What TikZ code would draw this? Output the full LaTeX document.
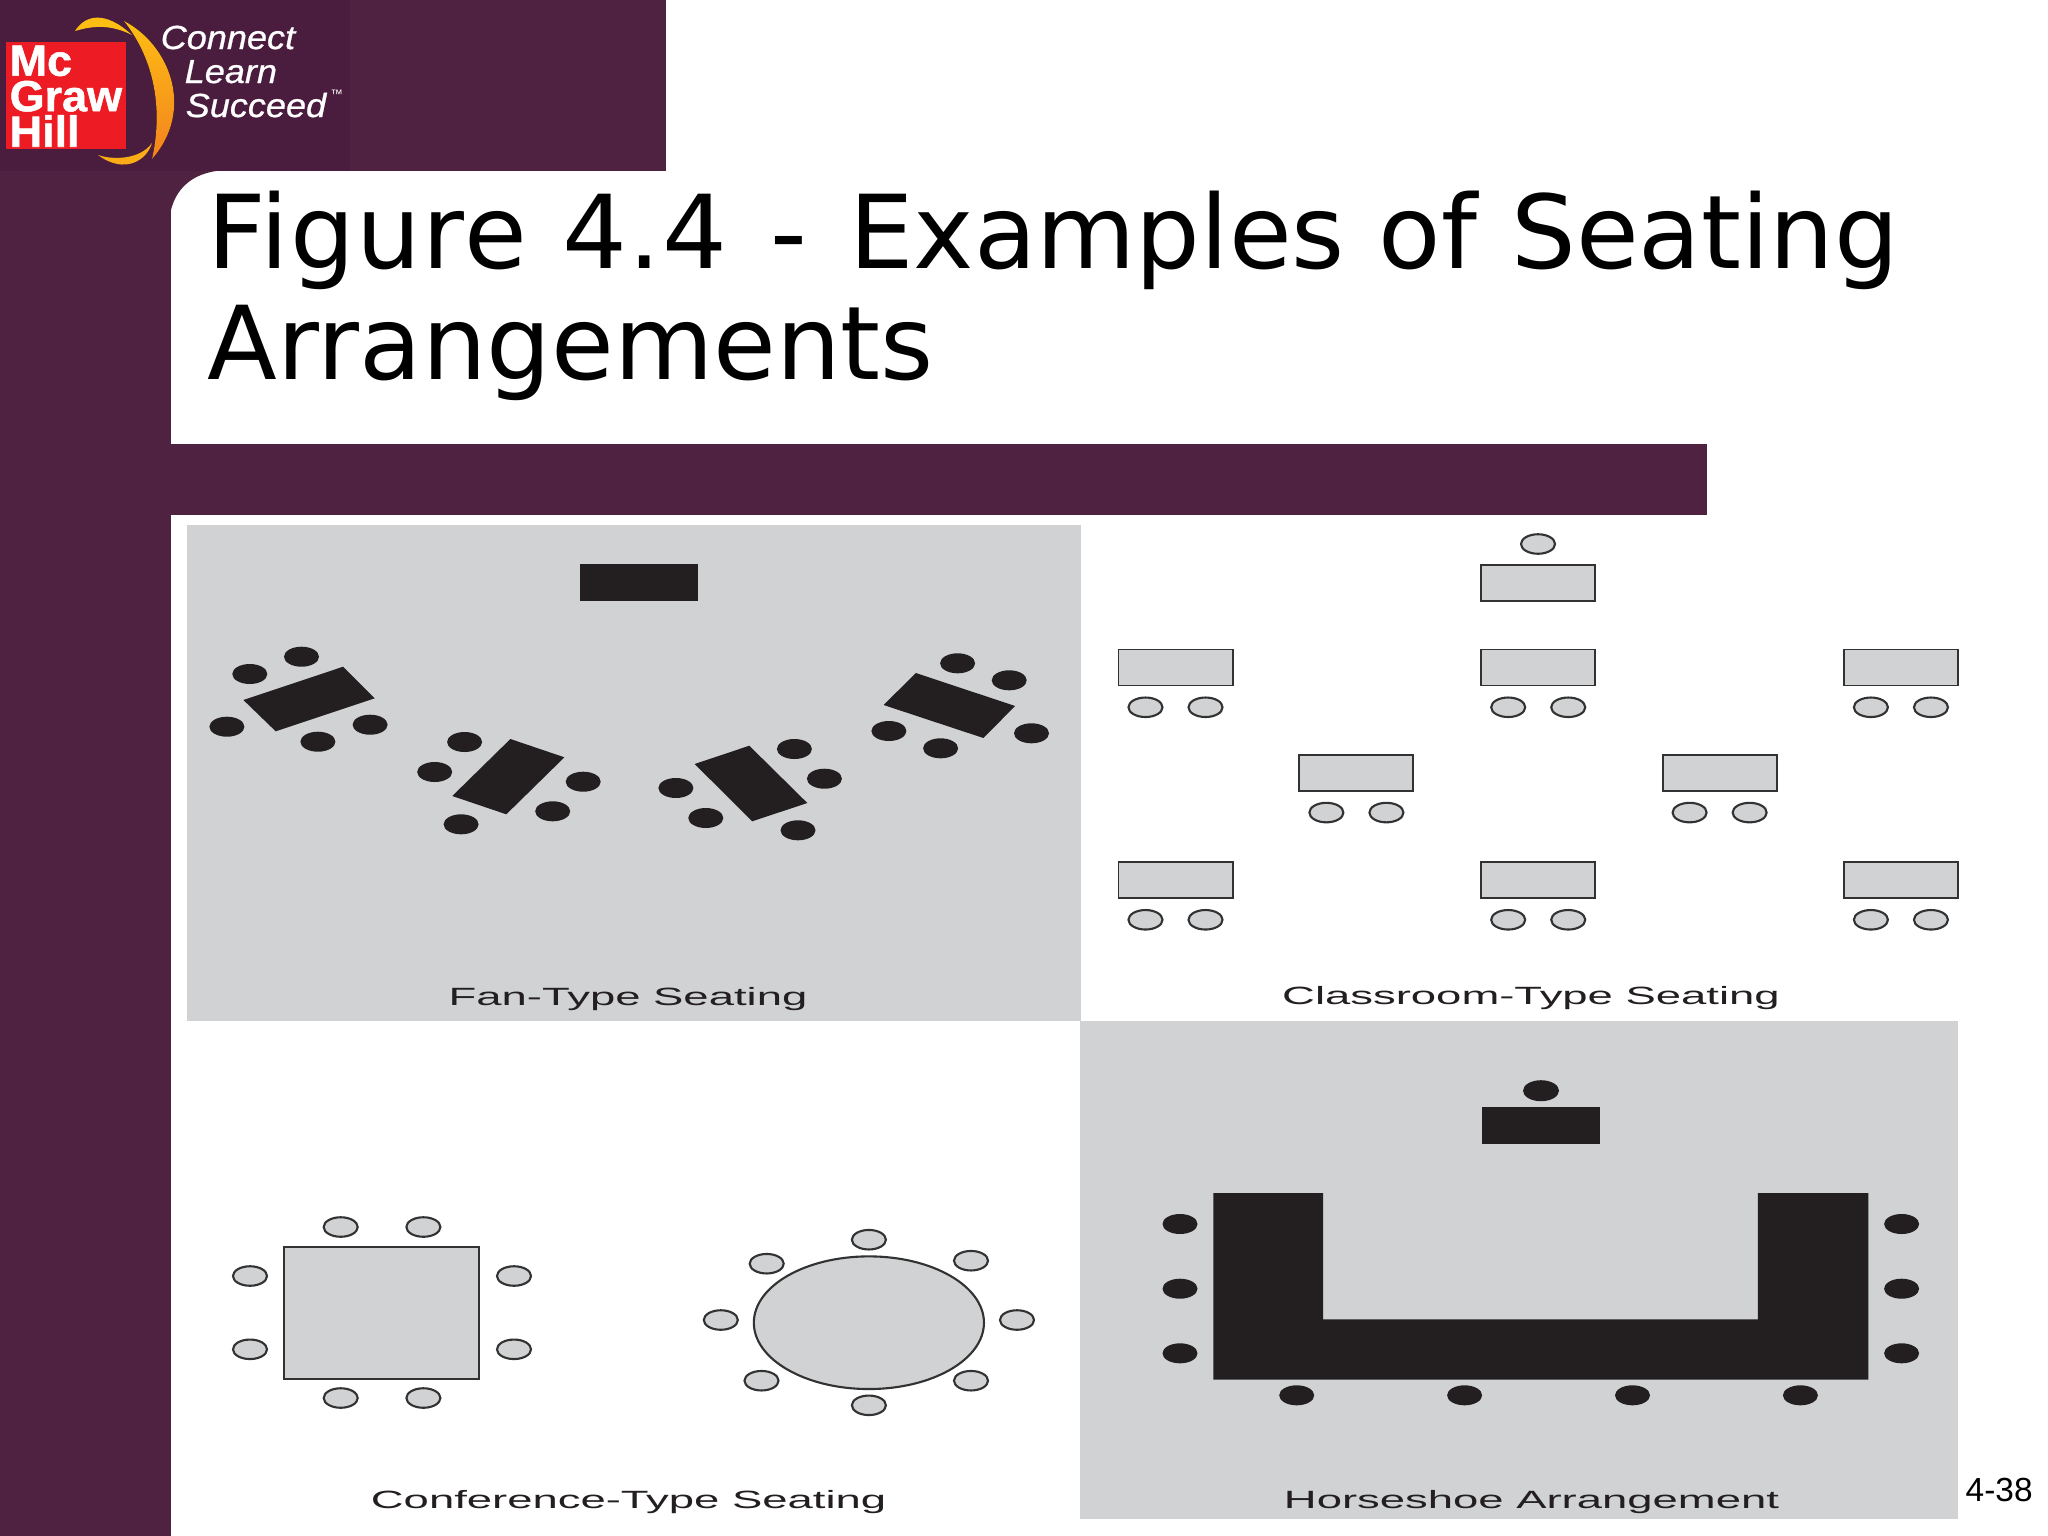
\documentclass[tikz,border=0pt]{standalone}
\usepackage{xcolor}
\usepackage{fontspec}
\setmainfont{Liberation Sans}
\newfontfamily\titlefont[WordSpace=1.05]{DejaVu Sans}
\newfontfamily\logofont[FakeBold=1.2]{Liberation Sans Bold}
\newfontfamily\taglinefont[FakeBold=0.7]{Liberation Sans Italic}
\usepackage{tikz}
\usetikzlibrary{shapes.geometric, positioning}
\definecolor{chrome}{RGB}{78, 34, 64}
\definecolor{chromedark}{RGB}{74, 28, 62}
\definecolor{logored}{RGB}{237, 28, 36}
\definecolor{swooshtop}{RGB}{253, 190, 20}
\definecolor{swooshlow}{RGB}{243, 130, 30}
\definecolor{panel}{RGB}{208, 210, 212}
\definecolor{ink}{RGB}{35, 31, 32}
\definecolor{rim}{RGB}{50, 50, 50}
\tikzset{
  basedesk/.style={
    rectangle, inner sep=0pt, outer sep=0pt,
    minimum width=1.14cm, minimum height=0.36cm
  },
  darkdesk/.style={basedesk, fill=ink},
  lightdesk/.style={basedesk, draw=rim, fill=panel, line width=0.55pt},
  darkseat/.style={
    ellipse, inner sep=0pt, outer sep=0pt, fill=ink,
    minimum width=0.35cm, minimum height=0.2cm
  },
  lightseat/.style={
    ellipse, inner sep=0pt, outer sep=0pt, draw=rim, fill=panel, line width=0.6pt,
    minimum width=0.34cm, minimum height=0.195cm
  },
  figlabel/.style={
    anchor=base, inner sep=0pt, transform shape, xscale=1.82, text=ink,
    font=\fontsize{7.1}{8.5}\selectfont
  },
  taglineword/.style={
    anchor=base west, inner sep=0pt, transform shape, xscale=1.08, text=white,
    font=\fontsize{9.5}{11}\selectfont\taglinefont
  }
}

\begin{document}
\begin{tikzpicture}[x=0.01cm, y=-0.01cm]

  \useasboundingbox (0,0) rectangle (2048,1536);
  \fill[white] (0,0) rectangle (2048,1536);

  % Slide Frame
  \fill[chrome] (0,0) rectangle (666,171);
  \fill[chromedark] (0,0) rectangle (350,171);
  \fill[chrome] (0,171) rectangle (171,1536);
  \fill[chrome] (171,171) -- (216,171) .. controls (190,175) and (176,190) .. (171,210) -- cycle;
  \fill[chrome] (171,443.5) rectangle (1707,514.5);

  % Logo
  \node[fill=logored, inner sep=0pt, outer sep=0pt, minimum width=1.2cm, minimum height=1.07cm] (logobox) at (66,95.5) {};
  \node[anchor=north west, inner sep=0pt, align=left, text=white, transform shape, xscale=1.03, font=\fontsize{12.4}{10.1}\selectfont\logofont] (logoname) at (9,45) {Mc\\Graw\\Hill};
  \fill[top color=swooshtop, bottom color=swooshlow] (124,21) .. controls (170,45) and (195,110) .. (152,159) .. controls (163,110) and (155,60) .. cycle;
  \fill[swooshtop] (75,31) .. controls (85,15) and (105,10) .. (132,35) .. controls (112,25) and (95,25) .. cycle;
  \fill[swooshtop!70!swooshlow] (98,155) .. controls (112,160) and (140,160) .. (152,143) .. controls (147,160) and (125,175) .. cycle;
  \node[taglineword] (connect) at (160,49) {Connect};
  \node[taglineword] (learn) at (184,83) {Learn};
  \node[taglineword] (succeed) at (185,117) {Succeed};
  \node[anchor=base west, inner sep=0pt, text=white, font=\fontsize{3.5}{4}\selectfont] (trademark) at (330,98) {™};

  % Title
  \node[anchor=north west, inner sep=0pt, align=left, font=\fontsize{29}{31.6}\selectfont\titlefont] (title) at (207,190) {{\addfontfeature{LetterSpace=1.5}Figure 4.4}\hspace{2.4pt} - \hspace{2.4pt}Examples of Seating\\Arrangements};

  % Fan-Type Seating
  \fill[panel] (187,525) rectangle (1081,1021);
  \node[darkdesk, minimum width=1.18cm, minimum height=0.37cm] (fanfront) at (639,582.5) {};

  \fill[ink] (243.4,700) -- (343.1,666.7) -- (374.8,698.3) -- (275.7,731.3) -- cycle;
  \node[darkseat] (fana1) at (301.5,656.7) {};
  \node[darkseat] (fana2) at (249.8,674) {};
  \node[darkseat] (fana3) at (226.9,726.7) {};
  \node[darkseat] (fana4) at (317.9,741.7) {};
  \node[darkseat] (fana5) at (370.1,724.7) {};

  \fill[ink] (510.4,739) -- (564.4,757.3) -- (506.3,814.3) -- (452.3,796) -- cycle;
  \node[darkseat] (fanb1) at (464.6,742) {};
  \node[darkseat] (fanb2) at (434.7,772) {};
  \node[darkseat] (fanb3) at (583.2,781.7) {};
  \node[darkseat] (fanb4) at (552.7,811.3) {};
  \node[darkseat] (fanb5) at (461.1,824.3) {};

  \fill[ink] (694.7,764) -- (749.3,745.7) -- (807.3,803) -- (752.2,821.3) -- cycle;
  \node[darkseat] (fanc1) at (794.4,749) {};
  \node[darkseat] (fanc2) at (824.4,778.7) {};
  \node[darkseat] (fanc3) at (675.9,788) {};
  \node[darkseat] (fanc4) at (705.8,818) {};
  \node[darkseat] (fanc5) at (798,830.3) {};

  \fill[ink] (915.9,673) -- (1015.1,706) -- (983.4,738) -- (883.6,705) -- cycle;
  \node[darkseat] (fand1) at (957.6,663.3) {};
  \node[darkseat] (fand2) at (1009.2,680.3) {};
  \node[darkseat] (fand3) at (888.9,731) {};
  \node[darkseat] (fand4) at (940.6,748.3) {};
  \node[darkseat] (fand5) at (1031.5,733.3) {};

  \node[figlabel] (fanlabel) at (628,1005) {Fan-Type Seating};

  % Classroom-Type Seating
  \node[lightdesk] (classfront) at (1538,582.7) {};
  \node[lightseat] (classfrontseat) at (1538,544) {};

  \node[lightdesk] (rowa1) at (1175.5,667.5) {};
  \node[lightdesk, right=2.485cm of rowa1] (rowa2) {};
  \node[lightdesk, right=2.485cm of rowa2] (rowa3) {};
  \node[lightdesk] (rowb1) at (1356.4,772.8) {};
  \node[lightdesk, right=2.49cm of rowb1] (rowb2) {};
  \node[lightdesk] (rowc1) at (1175.5,880) {};
  \node[lightdesk, right=2.485cm of rowc1] (rowc2) {};
  \node[lightdesk, right=2.485cm of rowc2] (rowc3) {};

  \node[lightseat, below=0.12cm of rowa1, xshift=-0.3cm] (seata1l) {};
  \node[lightseat, below=0.12cm of rowa1, xshift=0.3cm] (seata1r) {};
  \node[lightseat, below=0.12cm of rowa2, xshift=-0.3cm] (seata2l) {};
  \node[lightseat, below=0.12cm of rowa2, xshift=0.3cm] (seata2r) {};
  \node[lightseat, below=0.12cm of rowa3, xshift=-0.3cm] (seata3l) {};
  \node[lightseat, below=0.12cm of rowa3, xshift=0.3cm] (seata3r) {};
  \node[lightseat, below=0.12cm of rowb1, xshift=-0.3cm] (seatb1l) {};
  \node[lightseat, below=0.12cm of rowb1, xshift=0.3cm] (seatb1r) {};
  \node[lightseat, below=0.12cm of rowb2, xshift=-0.3cm] (seatb2l) {};
  \node[lightseat, below=0.12cm of rowb2, xshift=0.3cm] (seatb2r) {};
  \node[lightseat, below=0.12cm of rowc1, xshift=-0.3cm] (seatc1l) {};
  \node[lightseat, below=0.12cm of rowc1, xshift=0.3cm] (seatc1r) {};
  \node[lightseat, below=0.12cm of rowc2, xshift=-0.3cm] (seatc2l) {};
  \node[lightseat, below=0.12cm of rowc2, xshift=0.3cm] (seatc2r) {};
  \node[lightseat, below=0.12cm of rowc3, xshift=-0.3cm] (seatc3l) {};
  \node[lightseat, below=0.12cm of rowc3, xshift=0.3cm] (seatc3r) {};

  \node[figlabel] (classlabel) at (1531,1004) {Classroom-Type Seating};

  % Conference-Type Seating
  \node[lightdesk, minimum width=1.95cm, minimum height=1.314cm] (squaretable) at (381.5,1313) {};
  \node[lightseat] (squaret1) at (340.7,1227) {};
  \node[lightseat] (squaret2) at (423.4,1227) {};
  \node[lightseat] (squarel1) at (250,1276) {};
  \node[lightseat] (squarer1) at (514,1276) {};
  \node[lightseat] (squarel2) at (250,1349.3) {};
  \node[lightseat] (squarer2) at (514,1349.3) {};
  \node[lightseat] (squareb1) at (340.7,1398) {};
  \node[lightseat] (squareb2) at (423.4,1398) {};

  \node[ellipse, draw=rim, fill=panel, line width=0.6pt, inner sep=0pt, outer sep=0pt, minimum width=2.3cm, minimum height=1.326cm] (roundtable) at (868.9,1322.7) {};
  \node[lightseat] (roundn) at (868.9,1239.7) {};
  \node[lightseat] (roundnw) at (766.7,1263.7) {};
  \node[lightseat] (roundne) at (971,1260.7) {};
  \node[lightseat] (roundw) at (720.8,1320) {};
  \node[lightseat] (rounde) at (1017,1320) {};
  \node[lightseat] (roundsw) at (761.5,1380.7) {};
  \node[lightseat] (roundse) at (971,1380.7) {};
  \node[lightseat] (rounds) at (868.9,1405.3) {};

  \node[figlabel] (conflabel) at (628.6,1508) {Conference-Type Seating};

  % Horseshoe Arrangement
  \fill[panel] (1080,1021) rectangle (1958,1519);
  \node[darkseat, minimum width=0.36cm, minimum height=0.21cm] (frontseat) at (1541,1090.7) {};
  \node[darkdesk, minimum width=1.173cm, minimum height=0.37cm] (frontdesk) at (1541,1125.8) {};
  \fill[ink] (1213.3,1193) -- (1323.2,1193) -- (1323.2,1319.3) -- (1757.8,1319.3) -- (1757.8,1193) -- (1868.3,1193) -- (1868.3,1379.7) -- (1213.3,1379.7) -- cycle;
  \node[darkseat] (shoel1) at (1180,1224) {};
  \node[darkseat] (shoel2) at (1180,1288.7) {};
  \node[darkseat] (shoel3) at (1180,1353.3) {};
  \node[darkseat] (shoer1) at (1901.6,1224) {};
  \node[darkseat] (shoer2) at (1901.6,1288.7) {};
  \node[darkseat] (shoer3) at (1901.6,1353.3) {};
  \node[darkseat] (shoeb1) at (1296.7,1395.3) {};
  \node[darkseat] (shoeb2) at (1464.6,1395.3) {};
  \node[darkseat] (shoeb3) at (1632.5,1395.3) {};
  \node[darkseat] (shoeb4) at (1800.4,1395.3) {};

  \node[figlabel] (shoelabel) at (1531.5,1508) {Horseshoe Arrangement};

  % Slide Number
  \node[anchor=base west, inner sep=0pt, font=\fontsize{9.5}{11}\selectfont] (slidenumber) at (1965,1501) {4-38};

\end{tikzpicture}
\end{document}
